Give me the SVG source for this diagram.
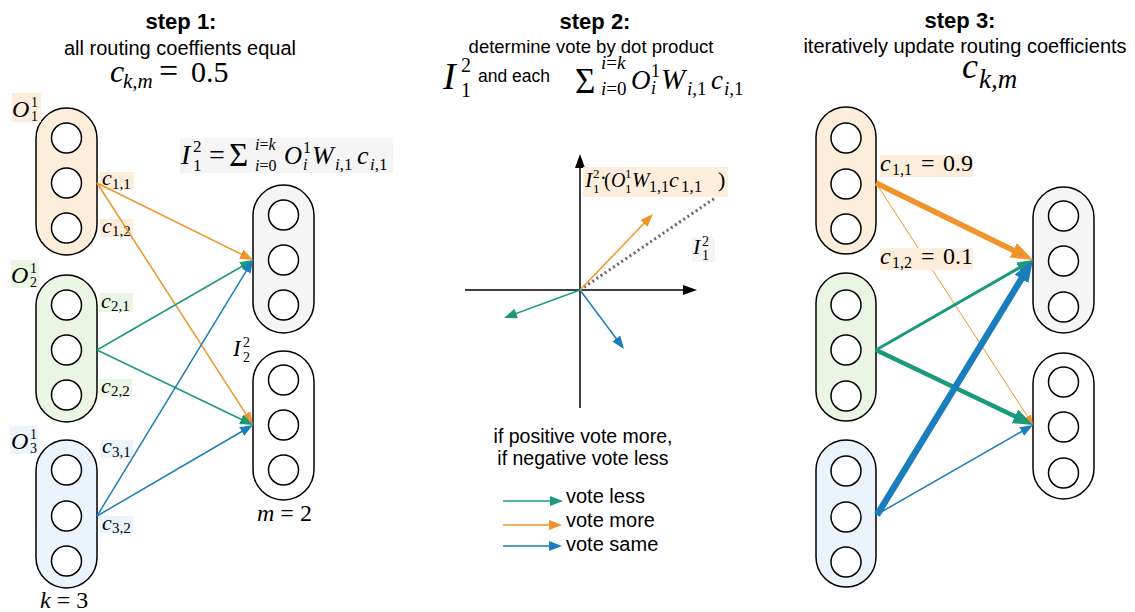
<svg xmlns="http://www.w3.org/2000/svg" width="1135" height="612" viewBox="0 0 1135 612">
<defs>
<style>
.sans{font-family:"Liberation Sans",Arial,Helvetica,sans-serif;fill:#000}
.b{font-weight:bold}
.m{font-family:"Liberation Serif","Times New Roman",serif;fill:#000}
.it{font-style:italic}
.cap{stroke:#000;stroke-width:1.5}
.cir{fill:#fff;stroke:#000;stroke-width:1.5}
.fo{fill:#fdeedc}.fg{fill:#eaf5e4}.fb{fill:#ebf4fc}.fy{fill:#f5f5f5}.fw{fill:#fff}
.or{stroke:#f0932a;fill:none}
.gr{stroke:#1a9a7a;fill:none}
.bl{stroke:#1a7dbd;fill:none}
.ax{stroke:#000;stroke-width:1.5;fill:none}
</style>
<marker id="os" markerUnits="userSpaceOnUse" markerWidth="13" markerHeight="10" refX="9" refY="5" orient="auto"><path d="M0,0L13,5L0,10z" fill="#f0932a"/></marker>
<marker id="gs" markerUnits="userSpaceOnUse" markerWidth="13" markerHeight="10" refX="9" refY="5" orient="auto"><path d="M0,0L13,5L0,10z" fill="#1a9a7a"/></marker>
<marker id="bs" markerUnits="userSpaceOnUse" markerWidth="13" markerHeight="10" refX="9" refY="5" orient="auto"><path d="M0,0L13,5L0,10z" fill="#1a7dbd"/></marker>
<marker id="oxs" markerUnits="userSpaceOnUse" markerWidth="10" markerHeight="8" refX="7" refY="4" orient="auto"><path d="M0,0L10,4L0,8z" fill="#f0932a"/></marker>
<marker id="gm" markerUnits="userSpaceOnUse" markerWidth="16" markerHeight="12" refX="9" refY="6" orient="auto"><path d="M0,0L16,6L0,12z" fill="#1a9a7a"/></marker>
<marker id="ol" markerUnits="userSpaceOnUse" markerWidth="22" markerHeight="16" refX="10" refY="8" orient="auto"><path d="M0,0L22,8L0,16z" fill="#f0932a"/></marker>
<marker id="gl" markerUnits="userSpaceOnUse" markerWidth="20" markerHeight="15" refX="10" refY="7.5" orient="auto"><path d="M0,0L20,7.5L0,15z" fill="#1a9a7a"/></marker>
<marker id="bl" markerUnits="userSpaceOnUse" markerWidth="22" markerHeight="16" refX="10" refY="8" orient="auto"><path d="M0,0L22,8L0,16z" fill="#1a7dbd"/></marker>
<marker id="ka" markerUnits="userSpaceOnUse" markerWidth="14" markerHeight="10" refX="10" refY="5" orient="auto"><path d="M0,0L14,5L0,10z" fill="#000"/></marker>
</defs>
<rect width="1135" height="612" fill="#fff"/>

<!-- ================= STEP 1 ================= -->
<g id="step1-title">
<text class="sans b" x="181" y="29" font-size="22" text-anchor="middle">step 1:</text>
<text class="sans" x="180" y="55" font-size="20" text-anchor="middle">all routing coeffients equal</text>
<text class="m" font-size="30"><tspan x="110" y="82" class="it" font-size="32">c</tspan><tspan x="123" y="88" class="it" font-size="21">k,m</tspan><tspan x="159" y="82" font-size="34">=</tspan><tspan x="191" y="82">0.5</tspan></text>
</g>

<g id="s1-o1">
<rect class="cap fo" x="36" y="108" width="61" height="147" rx="30.5"/>
<circle class="cir" cx="66.5" cy="138" r="15"/><circle class="cir" cx="66.5" cy="183" r="15"/><circle class="cir" cx="66.5" cy="228" r="15"/>
<rect class="fo" x="12" y="93" width="29" height="29"/>
<text class="m"><tspan x="12" y="117" class="it" font-size="24">O</tspan><tspan x="31" y="107" font-size="14">1</tspan><tspan x="31" y="121" font-size="14">1</tspan></text>
</g>
<g id="s1-o2">
<rect class="cap fg" x="36" y="275" width="61" height="147" rx="30.5"/>
<circle class="cir" cx="66.5" cy="305" r="15"/><circle class="cir" cx="66.5" cy="350" r="15"/><circle class="cir" cx="66.5" cy="395" r="15"/>
<rect class="fg" x="11" y="260" width="28" height="28"/>
<text class="m"><tspan x="11" y="283" class="it" font-size="24">O</tspan><tspan x="30" y="273" font-size="14">1</tspan><tspan x="30" y="287" font-size="14">2</tspan></text>
</g>
<g id="s1-o3">
<rect class="cap fb" x="36" y="440" width="61" height="148" rx="30.5"/>
<circle class="cir" cx="66.5" cy="470" r="15"/><circle class="cir" cx="66.5" cy="516" r="15"/><circle class="cir" cx="66.5" cy="561" r="15"/>
<rect class="fb" x="10" y="426" width="28" height="28"/>
<text class="m"><tspan x="11" y="449" class="it" font-size="24">O</tspan><tspan x="30" y="439" font-size="14">1</tspan><tspan x="30" y="453" font-size="14">3</tspan></text>
<text class="m" x="40" y="608" font-size="24"><tspan class="it">k</tspan> = 3</text>
</g>

<g id="s1-i1">
<rect class="cap fy" x="253" y="185" width="61" height="148" rx="30.5"/>
<circle class="cir" cx="283.5" cy="215" r="15"/><circle class="cir" cx="283.5" cy="260" r="15"/><circle class="cir" cx="283.5" cy="305" r="15"/>
<rect class="fy" x="180" y="138" width="213" height="35"/>
<text class="m">
<tspan x="181" y="164" class="it" font-size="28">I</tspan><tspan x="193" y="152" font-size="17">2</tspan><tspan x="193" y="171" font-size="17">1</tspan>
<tspan x="209" y="164" font-size="28">=</tspan>
<tspan x="229" y="166" font-size="33">Σ</tspan>
<tspan x="255" y="150" font-size="16"><tspan class="it">i</tspan>=<tspan class="it">k</tspan></tspan>
<tspan x="255" y="171" font-size="16"><tspan class="it">i</tspan>=0</tspan>
<tspan x="284" y="164" class="it" font-size="25">O</tspan><tspan x="303" y="153" font-size="16">1</tspan><tspan x="303" y="170" class="it" font-size="16">i</tspan>
<tspan x="312" y="164" class="it" font-size="26">W</tspan><tspan x="335" y="170" font-size="17"><tspan class="it">i</tspan>,1</tspan>
<tspan x="357" y="164" class="it" font-size="26">c</tspan><tspan x="370" y="170" font-size="17"><tspan class="it">i</tspan>,1</tspan>
</text>
</g>
<g id="s1-i2">
<rect class="cap fw" x="253" y="351" width="61" height="149" rx="30.5"/>
<circle class="cir" cx="283.5" cy="380" r="15"/><circle class="cir" cx="283.5" cy="425" r="15"/><circle class="cir" cx="283.5" cy="470" r="15"/>
<text class="m"><tspan x="233" y="356" class="it" font-size="23">I</tspan><tspan x="243" y="347" font-size="14">2</tspan><tspan x="243" y="362" font-size="14">2</tspan></text>
<text class="m" x="257" y="521" font-size="24"><tspan class="it">m</tspan> = 2</text>
</g>

<g id="s1-labels">
<rect class="fo" x="100" y="172" width="34" height="18"/>
<text class="m"><tspan x="102" y="185" class="it" font-size="22">c</tspan><tspan x="112" y="189" font-size="15">1,1</tspan></text>
<rect class="fo" x="100" y="219" width="33" height="18"/>
<text class="m"><tspan x="102" y="233" class="it" font-size="22">c</tspan><tspan x="112" y="236" font-size="15">1,2</tspan></text>
<rect class="fg" x="99" y="293" width="34" height="19"/>
<text class="m"><tspan x="101" y="308" class="it" font-size="22">c</tspan><tspan x="111" y="311" font-size="15">2,1</tspan></text>
<rect class="fg" x="99" y="379" width="33" height="18"/>
<text class="m"><tspan x="101" y="393" class="it" font-size="22">c</tspan><tspan x="111" y="396" font-size="15">2,2</tspan></text>
<rect class="fb" x="100" y="440" width="33" height="18"/>
<text class="m"><tspan x="102" y="453" class="it" font-size="22">c</tspan><tspan x="112" y="457" font-size="15">3,1</tspan></text>
<rect class="fb" x="100" y="516" width="33" height="17"/>
<text class="m"><tspan x="102" y="530" class="it" font-size="22">c</tspan><tspan x="112" y="533" font-size="15">3,2</tspan></text>
</g>

<g id="s1-connectors" stroke-width="1.5">
<line class="or" x1="97" y1="183" x2="249.4" y2="258.2" marker-end="url(#os)"/>
<line class="or" x1="97" y1="183" x2="250.8" y2="421.6" marker-end="url(#os)"/>
<line class="gr" x1="97" y1="350" x2="249.5" y2="262" marker-end="url(#gs)"/>
<line class="gr" x1="97" y1="350" x2="249.4" y2="423.3" marker-end="url(#gs)"/>
<line class="bl" x1="97" y1="516" x2="250.9" y2="263.4" marker-end="url(#bs)"/>
<line class="bl" x1="97" y1="516" x2="249.5" y2="427" marker-end="url(#bs)"/>
</g>

<!-- ================= STEP 2 ================= -->
<g id="step2-title">
<text class="sans b" x="595" y="29" font-size="22" text-anchor="middle">step 2:</text>
<text class="sans" x="591" y="53" font-size="18.5" text-anchor="middle">determine vote by dot product</text>
<text class="m"><tspan x="443" y="89" class="it" font-size="38">I</tspan><tspan x="461" y="72" font-size="20">2</tspan><tspan x="461" y="97" font-size="20">1</tspan></text>
<text class="sans" x="478" y="82" font-size="17.5">and each</text>
<text class="m">
<tspan x="575" y="93" font-size="35">Σ</tspan>
<tspan x="601" y="69" font-size="19"><tspan class="it">i</tspan>=<tspan class="it">k</tspan></tspan>
<tspan x="601" y="95" font-size="19"><tspan class="it">i</tspan>=0</tspan>
<tspan x="631" y="89" class="it" font-size="27">O</tspan><tspan x="651" y="77" font-size="18">1</tspan><tspan x="651" y="94" class="it" font-size="18">i</tspan>
<tspan x="661" y="89" class="it" font-size="29">W</tspan><tspan x="687" y="95" font-size="19"><tspan class="it">i</tspan>,1</tspan>
<tspan x="711" y="89" class="it" font-size="27">c</tspan><tspan x="724" y="95" font-size="19"><tspan class="it">i</tspan>,1</tspan>
</text>
</g>

<g id="s2-axes">
<line class="ax" x1="465" y1="290" x2="693" y2="290" marker-end="url(#ka)"/>
<line class="ax" x1="580" y1="408" x2="580" y2="158" marker-end="url(#ka)"/>
</g>
<g id="s2-vectors" stroke-width="1.5">
<line x1="580" y1="290" x2="715" y2="198" stroke="#666" stroke-width="3" stroke-dasharray="2 3"/>
<line class="or" x1="580" y1="290" x2="650.2" y2="216.9" marker-end="url(#os)"/>
<line class="gr" x1="580" y1="290" x2="507.8" y2="316.6" marker-end="url(#gs)"/>
<line class="bl" x1="580" y1="290" x2="621.6" y2="345.8" marker-end="url(#bs)"/>
</g>
<g id="s2-labels">
<rect class="fo" x="583" y="167" width="145" height="30"/>
<text class="m">
<tspan x="585" y="187" class="it" font-size="22">I</tspan><tspan x="593" y="178" font-size="13">2</tspan><tspan x="593" y="193" font-size="13">1</tspan>
<tspan x="600" y="185" font-size="20">·</tspan><tspan x="604" y="187" font-size="20">(</tspan>
<tspan x="611" y="187" class="it" font-size="20">O</tspan><tspan x="625" y="178" font-size="13">1</tspan><tspan x="625" y="193" font-size="13">1</tspan>
<tspan x="632" y="187" class="it" font-size="21">W</tspan><tspan x="649" y="192" font-size="16">1,1</tspan>
<tspan x="669" y="187" class="it" font-size="22">c</tspan><tspan x="681" y="192" font-size="17">1,1</tspan>
<tspan x="718" y="187" font-size="22">)</tspan>
</text>
<rect class="fy" x="692" y="237" width="23" height="25"/>
<text class="m"><tspan x="693" y="254" class="it" font-size="22">I</tspan><tspan x="702" y="246" font-size="14">2</tspan><tspan x="702" y="260" font-size="14">1</tspan></text>
</g>
<g id="s2-text">
<text class="sans" x="583" y="443" font-size="19.5" text-anchor="middle">if positive vote more,</text>
<text class="sans" x="583" y="465" font-size="19.5" text-anchor="middle">if negative vote less</text>
</g>
<g id="s2-legend">
<line class="gr" x1="503" y1="501" x2="559" y2="501" stroke-width="1.5" marker-end="url(#gs)"/>
<line class="or" x1="503" y1="525" x2="558" y2="525" stroke-width="1.5" marker-end="url(#os)"/>
<line class="bl" x1="503" y1="546" x2="558" y2="546" stroke-width="1.5" marker-end="url(#bs)"/>
<text class="sans" x="566" y="503" font-size="20">vote less</text>
<text class="sans" x="566" y="527" font-size="20">vote more</text>
<text class="sans" x="566" y="551" font-size="20">vote same</text>
</g>

<!-- ================= STEP 3 ================= -->
<g id="step3-title">
<text class="sans b" x="960" y="28" font-size="22" text-anchor="middle">step 3:</text>
<text class="sans" x="965" y="53" font-size="20" text-anchor="middle">iteratively update routing coefficients</text>
<text class="m"><tspan x="962" y="78" class="it" font-size="36">c</tspan><tspan x="979" y="88" class="it" font-size="27">k,m</tspan></text>
</g>
<g id="s3-o1">
<rect class="cap fo" x="816" y="107" width="60" height="147" rx="30"/>
<circle class="cir" cx="846" cy="138" r="15"/><circle class="cir" cx="846" cy="184" r="15"/><circle class="cir" cx="846" cy="229" r="15"/>
</g>
<g id="s3-o2">
<rect class="cap fg" x="816" y="273" width="60" height="148" rx="30"/>
<circle class="cir" cx="846" cy="305" r="15"/><circle class="cir" cx="846" cy="350" r="15"/><circle class="cir" cx="846" cy="396" r="15"/>
</g>
<g id="s3-o3">
<rect class="cap fb" x="816" y="440" width="60" height="147" rx="30"/>
<circle class="cir" cx="846" cy="471" r="15"/><circle class="cir" cx="846" cy="517" r="15"/><circle class="cir" cx="846" cy="562" r="15"/>
</g>
<g id="s3-i1">
<rect class="cap fy" x="1033" y="187" width="61" height="146" rx="30.5"/>
<circle class="cir" cx="1063.5" cy="216" r="15"/><circle class="cir" cx="1063.5" cy="261" r="15"/><circle class="cir" cx="1063.5" cy="307" r="15"/>
</g>
<g id="s3-i2">
<rect class="cap fw" x="1033" y="353" width="61" height="146" rx="30.5"/>
<circle class="cir" cx="1063.5" cy="382" r="15"/><circle class="cir" cx="1063.5" cy="427" r="15"/><circle class="cir" cx="1063.5" cy="473" r="15"/>
</g>
<g id="s3-connectors">
<line class="or" x1="876" y1="183" x2="1031.4" y2="422.5" stroke-width="1" marker-end="url(#oxs)"/>
<line class="gr" x1="876" y1="350" x2="1026.9" y2="263.5" stroke-width="3" marker-end="url(#gm)"/>
<line class="bl" x1="876" y1="515" x2="1029.5" y2="427" stroke-width="1.5" marker-end="url(#bs)"/>
<line class="gr" x1="876" y1="350" x2="1024" y2="420.7" stroke-width="4.5" marker-end="url(#gl)"/>
<line class="bl" x1="877" y1="515" x2="1026.7" y2="270.2" stroke-width="6.5" marker-end="url(#bl)"/>
<line class="or" x1="876" y1="183" x2="1022.2" y2="254.7" stroke-width="5.5" marker-end="url(#ol)"/>
</g>
<g id="s3-labels">
<rect class="fo" x="880" y="155" width="93" height="22"/>
<text class="m"><tspan x="880" y="171" class="it" font-size="24">c</tspan><tspan x="892" y="175" font-size="16">1,1</tspan><tspan x="921" y="171" font-size="24">=</tspan><tspan x="943" y="171" font-size="24">0.9</tspan></text>
<rect class="fo" x="880" y="248" width="93" height="22"/>
<text class="m"><tspan x="880" y="264" class="it" font-size="24">c</tspan><tspan x="892" y="268" font-size="16">1,2</tspan><tspan x="921" y="264" font-size="24">=</tspan><tspan x="943" y="264" font-size="24">0.1</tspan></text>
</g>
</svg>
